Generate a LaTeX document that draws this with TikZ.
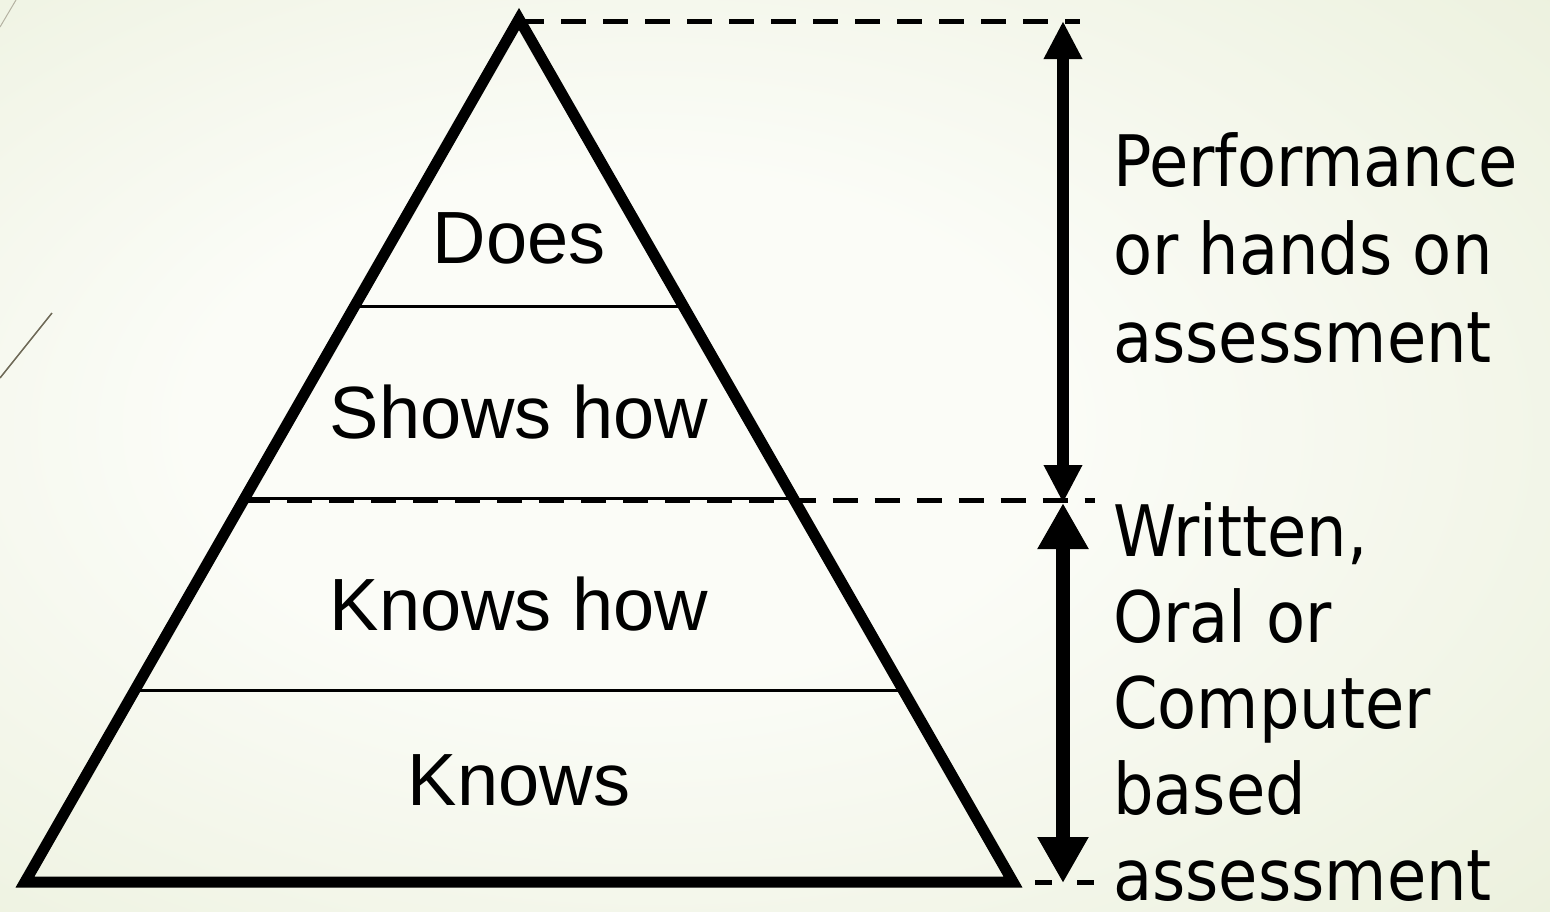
\documentclass[tikz,border=0pt]{standalone}
\usepackage{fontspec}
\setmainfont{Liberation Sans}
\newfontfamily\notefont{DejaVu Sans Condensed}
\usetikzlibrary{arrows.meta,calc}
\definecolor{bginner}{HTML}{FBFCF7}
\definecolor{bgmid}{HTML}{EBF0DC}
\definecolor{bgedge}{HTML}{E1E9CA}
\definecolor{bgouter}{HTML}{DAE4BE}
\definecolor{deco}{HTML}{6F6A58}
\definecolor{decolight}{HTML}{B5B2A2}

\pgfdeclareradialshading{backdrop}{\pgfpoint{-6bp}{2bp}}{%
  color(0bp)=(bginner); color(14bp)=(bginner); color(40bp)=(bgmid);
  color(56bp)=(bgedge); color(72bp)=(bgouter)}

\tikzset{
  layerlabel/.style={font=\fontsize{74}{86}\selectfont, anchor=base, inner sep=0pt},
  sidenote/.style={font=\notefont\fontsize{71}{88}\selectfont, align=left, anchor=base west, inner sep=0pt},
  layerline/.style={line width=3pt},
  levelline/.style={line width=5pt, dash pattern=on 25pt off 17pt},
  bigtip/.tip={Triangle[length=38pt,width=36pt]},
  hugetip/.tip={Triangle[length=46pt,width=48pt]}
}

\begin{document}
\begin{tikzpicture}[x=1pt,y=-1pt]
  % backdrop
  \useasboundingbox (0,0) rectangle (1550,911);
  \shade[shading=backdrop] (0,0) rectangle (1550,911);
  \draw[deco, line width=1.5pt] (0,378) -- (52,313);
  \draw[decolight, line width=1pt] (0,27) -- (16,0);

  % pyramid corners
  \coordinate (apex) at (519,19);
  \coordinate (bl) at (25,882);
  \coordinate (br) at (1013,882);

  % layer boundaries
  \foreach \i/\t in {1/0.2222, 2/0.4444, 3/0.6667} {
    \coordinate (l\i) at ($(bl)!\t!(apex)$);
    \coordinate (r\i) at ($(br)!\t!(apex)$);
  }
  \draw[layerline] (l1) -- (r1);
  \draw[layerline] (l2) -- (r2);
  \draw[layerline] (l3) -- (r3);

  % level markers
  \coordinate (topend) at (1080,21);
  \coordinate (midend) at (1095,500);
  \coordinate (botend) at (1095,882);
  \draw[levelline] (apex |- topend) -- (topend);
  \draw[levelline] (l2 |- midend) -- (midend);
  \draw[line width=5pt, dash pattern=on 17pt off 25pt, dash phase=20pt] (br) -- (botend);

  % pyramid outline
  \draw[line width=11pt] (bl) -- (apex) -- (br) -- cycle;

  % layer labels
  \node[layerlabel] (does) at (519,263) {Does};
  \node[layerlabel] (shows) at (519,438) {Shows how};
  \node[layerlabel] (knowshow) at (519,630) {Knows how};
  \node[layerlabel] (knows) at (519,805) {Knows};

  % range arrows
  \coordinate (a1) at (1063,21);
  \coordinate (a2) at (1063,503);
  \coordinate (a3) at (1063,883);
  \draw[line width=12pt, bigtip-bigtip] (a1) -- (a2);
  \draw[line width=14pt, hugetip-hugetip] (a2) -- (a3);

  % range notes (anchored at the last baseline)
  \node[sidenote] (perf) at (1113,362) {Performance\\or hands on\\assessment};
  \node[sidenote, font=\notefont\fontsize{71}{86}\selectfont] (written) at (1113,900) {Written,\\Oral or\\Computer\\based\\assessment};
\end{tikzpicture}
\end{document}
